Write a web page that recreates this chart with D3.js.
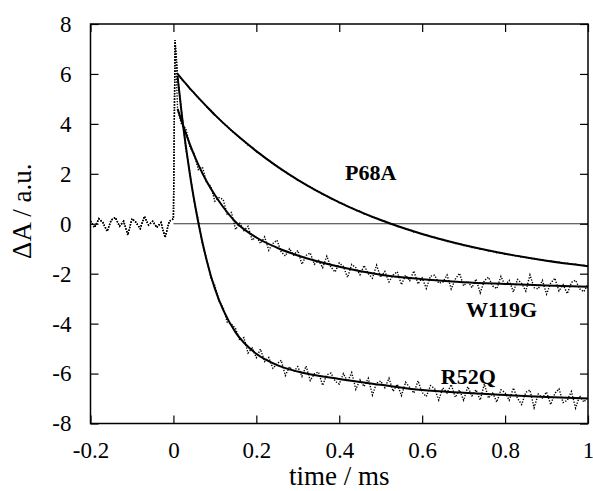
<!DOCTYPE html>
<html>
<head>
<meta charset="utf-8">
<script src="https://cdn.jsdelivr.net/npm/d3@7"></script>
<style>
  body { margin: 0; background: #fff; }
  text { font-family: "Liberation Serif", "Times New Roman", Times, serif; fill: #000; }
</style>
</head>
<body>
<div class="chart"></div>
<script>
/* CONSTANTS */
const width = 593,
  height = 491,
  margin = { top: 24, bottom: 67.5, left: 90.5, right: 5 };

/* DATA */
const xTicks = [-0.2, 0, 0.2, 0.4, 0.6, 0.8, 1];
const yTicks = [-8, -6, -4, -2, 0, 2, 4, 6, 8];

// pre-trigger baseline, t = -0.20 ... 0.00 (step 0.01)
const baselineTime = d3.range(21).map(i => -0.2 + i * 0.01);
const baselineValues = [0.1, -0.15, 0.2, 0.05, -0.3, 0.15, 0.25, -0.1, 0.1, -0.45,
  0.2, 0.05, -0.2, 0.3, -0.05, 0.1, -0.15, 0.05, -0.55, 0.1, 0.2];

// flash artefact
const spikeTime = [0.004];
const spikeValues = [7.35];

// measured traces, t = 0.01 ... 1.00 (step 0.01)
const traceTime = d3.range(100).map(i => (i + 1) * 0.01);

const p68aData = [6.0, 5.78, 5.62, 5.40, 5.25, 5.03, 4.88, 4.68, 4.55, 4.34,
  4.21, 4.03, 3.90, 3.72, 3.60, 3.43, 3.32, 3.15, 3.06, 2.89,
  2.79, 2.64, 2.55, 2.40, 2.31, 2.17, 2.09, 1.95, 1.88, 1.74,
  1.67, 1.55, 1.48, 1.36, 1.30, 1.17, 1.12, 1.00, 0.95, 0.84,
  0.80, 0.69, 0.64, 0.53, 0.50, 0.39, 0.36, 0.26, 0.23, 0.13,
  0.10, 0.01, -0.02, -0.11, -0.13, -0.22, -0.24, -0.33, -0.35, -0.43,
  -0.45, -0.53, -0.54, -0.62, -0.63, -0.71, -0.72, -0.79, -0.80, -0.87,
  -0.88, -0.95, -0.96, -1.02, -1.03, -1.09, -1.10, -1.16, -1.16, -1.22,
  -1.22, -1.28, -1.28, -1.34, -1.34, -1.39, -1.39, -1.44, -1.44, -1.49,
  -1.49, -1.54, -1.54, -1.58, -1.58, -1.63, -1.62, -1.67, -1.66, -1.70];

const w119gData = [4.6, 3.95, 3.82, 3.07, 2.80, 2.17, 2.27, 1.65, 1.51, 0.90,
  1.05, 0.97, 0.35, 0.45, -0.23, 0.02, -0.27, -0.10, -0.66, -0.50,
  -0.79, -0.53, -1.06, -0.79, -0.66, -1.13, -1.29, -1.00, -1.26, -1.07,
  -1.62, -1.27, -1.17, -1.62, -1.47, -1.76, -1.30, -1.74, -1.93, -1.57,
  -1.71, -2.15, -1.63, -1.76, -2.04, -1.67, -2.00, -2.18, -1.66, -2.14,
  -1.91, -2.33, -2.05, -1.92, -2.44, -2.06, -2.28, -1.89, -2.41, -2.17,
  -2.59, -2.10, -2.06, -2.38, -2.34, -2.05, -2.61, -2.22, -1.98, -2.49,
  -2.30, -2.56, -2.22, -2.77, -2.28, -2.14, -2.49, -2.60, -2.11, -2.46,
  -2.27, -2.73, -2.23, -2.39, -2.70, -2.05, -2.56, -2.61, -2.27, -2.82,
  -2.38, -2.18, -2.69, -2.44, -2.80, -2.35, -2.26, -2.61, -2.72, -2.42];

const r52qData = [5.9, 4.45, 3.0, 2.03, 0.9, 0.15, -0.83, -1.4, -2.15, -2.48,
  -3.1, -3.35, -3.95, -4.02, -4.2, -4.67, -4.56, -5.18, -4.98, -5.36,
  -5.02, -5.52, -5.36, -5.79, -5.61, -5.47, -6.08, -5.73, -5.93, -5.72,
  -6.11, -5.70, -6.28, -6.01, -5.94, -6.47, -6.05, -5.98, -6.30, -6.42,
  -6.00, -6.32, -5.96, -6.63, -6.25, -6.52, -6.19, -6.86, -6.38, -6.30,
  -6.57, -6.19, -6.71, -6.43, -6.88, -6.35, -6.56, -6.78, -6.29, -6.76,
  -6.92, -6.48, -6.60, -7.06, -6.57, -6.78, -6.44, -6.95, -6.66, -7.07,
  -6.53, -6.89, -6.65, -7.06, -6.42, -6.98, -6.78, -7.14, -6.65, -6.76,
  -7.07, -6.58, -6.99, -7.24, -6.75, -6.66, -7.37, -6.82, -6.98, -6.74,
  -7.24, -6.80, -6.61, -7.16, -7.07, -6.72, -7.38, -6.89, -7.14, -6.95];

// fitted curves
const fitTime = [0.01, 0.02, 0.03, 0.04, 0.05, 0.06, 0.08, 0.1, 0.12, 0.15,
  0.2, 0.25, 0.3, 0.4, 0.5, 0.6, 0.7, 0.8, 0.9, 1.0];
const p68aFit = [6.0, 5.80, 5.61, 5.41, 5.23, 5.05, 4.70, 4.36, 4.04, 3.59,
  2.91, 2.30, 1.76, 0.86, 0.15, -0.41, -0.85, -1.20, -1.48, -1.70];
const w119gFit = [4.6, 4.1, 3.62, 3.17, 2.75, 2.37, 1.70, 1.15, 0.67, 0.07,
  -0.55, -0.96, -1.27, -1.72, -2.04, -2.22, -2.34, -2.41, -2.47, -2.52];
const r52qFit = [5.9, 4.4, 3.1, 1.95, 0.95, 0.05, -1.45, -2.6, -3.45, -4.35,
  -5.21, -5.66, -5.92, -6.22, -6.45, -6.66, -6.77, -6.86, -6.94, -7.0];

const seriesNames = ["P68A", "W119G", "R52Q"];
const seriesLabelPos = [[0.414, 1.75], [0.706, -3.73], [0.645, -6.4]];

/* SCALES */
const xScale = d3.scaleLinear()
  .domain([-0.2, 1])
  .range([margin.left, width - margin.right]);

const yScale = d3.scaleLinear()
  .domain([-8, 8])
  .range([height - margin.bottom, margin.top]);

const svg = d3.select(".chart")
  .append("svg")
  .attr("width", width)
  .attr("height", height);

// helper: join the baseline, spike and a decay into one trace
function buildTrace(values) {
  const pts = baselineTime.map((t, i) => [t, baselineValues[i]]);
  spikeTime.forEach((t, i) => pts.push([t, spikeValues[i]]));
  traceTime.forEach((t, i) => pts.push([t, values[i]]));
  return pts;
}

const line = d3.line()
  .x(d => xScale(d[0]))
  .y(d => yScale(d[1]));

const fitLine = d3.line()
  .x(d => xScale(d[0]))
  .y(d => yScale(d[1]))
  .curve(d3.curveMonotoneX);

// zero line
svg.append("line")
  .attr("x1", xScale(0))
  .attr("x2", xScale(1))
  .attr("y1", yScale(0))
  .attr("y2", yScale(0))
  .attr("stroke", "#333")
  .attr("stroke-width", 1);

// dotted measured traces
svg.selectAll("path.trace")
  .data([p68aData, w119gData, r52qData].map(buildTrace))
  .join("path")
  .attr("class", "trace")
  .attr("fill", "none")
  .attr("stroke", "#000")
  .attr("stroke-width", 1.4)
  .attr("stroke-dasharray", "1.3,1.5")
  .attr("d", line);

// solid fits
svg.selectAll("path.fit")
  .data([p68aFit, w119gFit, r52qFit].map(v => fitTime.map((t, i) => [t, v[i]])))
  .join("path")
  .attr("class", "fit")
  .attr("fill", "none")
  .attr("stroke", "#000")
  .attr("stroke-width", 2)
  .attr("d", fitLine);

// frame
svg.append("rect")
  .attr("x", xScale(-0.2))
  .attr("y", yScale(8))
  .attr("width", xScale(1) - xScale(-0.2))
  .attr("height", yScale(-8) - yScale(8))
  .attr("fill", "none")
  .attr("stroke", "#000")
  .attr("stroke-width", 1.5);

// axes, ticks inward on all four sides
const tickLen = 8;
const fmtX = d => (d === 0 || d === 1) ? String(d) : d.toFixed(1);
const fmtY = d => String(d);

svg.append("g")
  .attr("transform", `translate(0, ${yScale(-8)})`)
  .call(d3.axisBottom(xScale).tickValues(xTicks).tickSizeInner(-tickLen).tickSizeOuter(0).tickPadding(tickLen + 10)
    .tickFormat(fmtX))
  .call(g => g.select(".domain").remove())
  .attr("font-size", 23);

svg.append("g")
  .attr("transform", `translate(0, ${yScale(8)})`)
  .call(d3.axisTop(xScale).tickValues(xTicks).tickSizeInner(-tickLen).tickSizeOuter(0).tickFormat(""))
  .call(g => g.select(".domain").remove());

svg.append("g")
  .attr("transform", `translate(${xScale(-0.2)}, 0)`)
  .call(d3.axisLeft(yScale).tickValues(yTicks).tickSizeInner(-tickLen).tickSizeOuter(0).tickPadding(tickLen + 11)
    .tickFormat(fmtY))
  .call(g => g.select(".domain").remove())
  .attr("font-size", 23);

svg.append("g")
  .attr("transform", `translate(${xScale(1)}, 0)`)
  .call(d3.axisRight(yScale).tickValues(yTicks).tickSizeInner(-tickLen).tickSizeOuter(0).tickFormat(""))
  .call(g => g.select(".domain").remove());

svg.selectAll(".tick line").attr("stroke", "#000").attr("stroke-width", 1.2);
svg.selectAll(".tick text").attr("fill", "#000");

// axis titles
svg.append("text")
  .text("time / ms")
  .attr("x", (xScale(-0.2) + xScale(1)) / 2)
  .attr("y", 485)
  .attr("text-anchor", "middle")
  .attr("font-size", 27);

svg.append("text")
  .text("ΔA / a.u.")
  .attr("transform", `translate(31, ${yScale(0.5)}) rotate(-90)`)
  .attr("text-anchor", "middle")
  .attr("font-size", 27);

// series labels
svg.selectAll("text.series")
  .data(seriesNames)
  .join("text")
  .attr("class", "series")
  .attr("x", (d, i) => xScale(seriesLabelPos[i][0]))
  .attr("y", (d, i) => yScale(seriesLabelPos[i][1]))
  .attr("font-size", 22)
  .attr("font-weight", "bold")
  .text(d => d);
</script>
</body>
</html>
